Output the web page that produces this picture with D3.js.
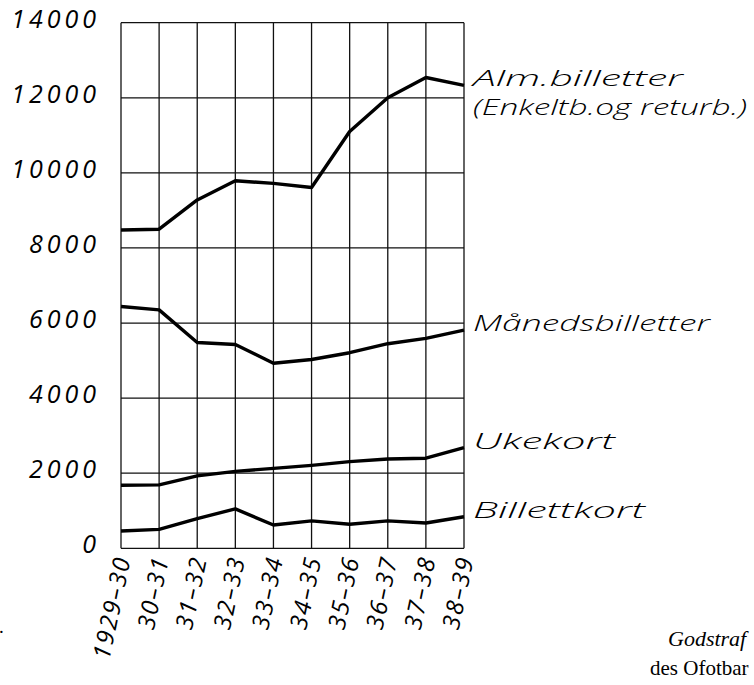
<!DOCTYPE html>
<html>
<head>
<meta charset="utf-8">
<script src="https://cdn.jsdelivr.net/npm/d3@7"></script>
<style>
  body { margin: 0; background: #fff; }
  svg { display: block; }
  .hand { font-family: 'Open Sans', sans-serif; font-style: italic; fill: #000; }
  .print { font-family: 'Liberation Serif', 'DejaVu Serif', serif; fill: #000; }
</style>
</head>
<body>
<svg id="canvas" width="754" height="685"></svg>
<script>
// seasons on the x axis
const seasons = ['1929-30', '30-31', '31-32', '32-33', '33-34', '34-35', '35-36', '36-37', '37-38', '38-39'];

// number of tickets
const almBilletter = [8480, 8500, 9280, 9790, 9720, 9610, 11100, 12000, 12540, 12330];
const maanedsbilletter = [6440, 6350, 5480, 5430, 4930, 5030, 5210, 5450, 5590, 5810];
const ukekort = [1680, 1690, 1930, 2050, 2130, 2210, 2310, 2380, 2400, 2680];
const billettkort = [460, 505, 790, 1050, 620, 730, 640, 730, 675, 840];

const yTicks = [0, 2000, 4000, 6000, 8000, 10000, 12000, 14000];

const series = [
  { name: ['Alm.billetter', '(Enkeltb.og returb.)'], values: almBilletter, widths: [210, 274] },
  { name: ['Månedsbilletter'], values: maanedsbilletter, widths: [237] },
  { name: ['Ukekort'], values: ukekort, widths: [142] },
  { name: ['Billettkort'], values: billettkort, widths: [172] }
];

const svg = d3.select('#canvas');

const x = d3.scalePoint().domain(seasons).range([121, 464]);
const y = d3.scaleLinear().domain([0, 14000]).range([548.3, 22.7]);

// grid
const grid = svg.append('g').attr('stroke', '#111').attr('stroke-width', 1.3);

grid.selectAll('line.v')
  .data(seasons)
  .enter()
  .append('line')
  .attr('class', 'v')
  .attr('x1', (d) => x(d))
  .attr('x2', (d) => x(d))
  .attr('y1', y(14000))
  .attr('y2', y(0));

grid.selectAll('line.h')
  .data(yTicks)
  .enter()
  .append('line')
  .attr('class', 'h')
  .attr('x1', x(seasons[0]))
  .attr('x2', x(seasons[seasons.length - 1]))
  .attr('y1', (d) => y(d))
  .attr('y2', (d) => y(d));

// y labels
svg.selectAll('text.ylab')
  .data(yTicks)
  .enter()
  .append('text')
  .attr('class', 'hand ylab')
  .attr('x', 100)
  .attr('y', (d) => y(d) + 5)
  .attr('text-anchor', 'end')
  .attr('font-size', 25)
  .attr('letter-spacing', 4)
  .text((d) => d);

// x labels, written steeply upwards
svg.selectAll('text.xlab')
  .data(seasons)
  .enter()
  .append('text')
  .attr('class', 'hand xlab')
  .attr('transform', (d) => 'translate(' + (x(d) + 10) + ',' + 558 + ') rotate(-78)')
  .attr('text-anchor', 'end')
  .attr('font-size', 24)
  .attr('letter-spacing', 2)
  .text((d) => d.replace('-', '–'));

// lines
const line = d3.line()
  .x((d, i) => x(seasons[i]))
  .y((d) => y(d));

svg.selectAll('path.series')
  .data(series)
  .enter()
  .append('path')
  .attr('class', 'series')
  .attr('d', (d) => line(d.values))
  .attr('fill', 'none')
  .attr('stroke', '#000')
  .attr('stroke-width', 3.4)
  .attr('stroke-linejoin', 'round');

// series names at the right end
series.forEach((s) => {
  const last = s.values[s.values.length - 1];
  s.name.forEach((n, i) => {
    svg.append('text')
      .attr('class', 'hand')
      .attr('x', 473)
      .attr('y', y(last) + 1 + i * 29)
      .attr('font-size', 22)
      .attr('font-weight', 300)
      .attr('textLength', s.widths[i])
      .attr('lengthAdjust', 'spacingAndGlyphs')
      .text(n);
  });
});

// bits of the surrounding page
svg.append('text').attr('class', 'print').attr('x', 668).attr('y', 646)
  .attr('font-size', 22).attr('font-style', 'italic').text('Godstraf');
svg.append('text').attr('class', 'print').attr('x', 650).attr('y', 675)
  .attr('font-size', 21).text('des Ofotbar');
svg.append('text').attr('class', 'print').attr('x', -1).attr('y', 633)
  .attr('font-size', 19).text('.');
</script>
</body>
</html>
